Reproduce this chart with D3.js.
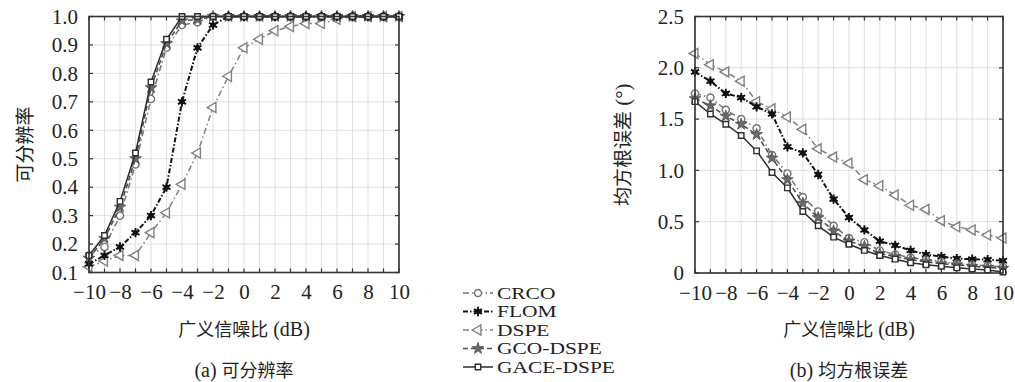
<!DOCTYPE html>
<html>
<head>
<meta charset="utf-8">
<script src="https://cdn.jsdelivr.net/npm/d3@7"></script>
<style>
body{margin:0;background:#fff;}
svg{display:block;}
</style>
</head>
<body>
<svg id="chart" width="1015" height="382"></svg>
<script>

var snr = d3.range(-10, 11, 1);

// (a) resolution probability
var probCRCO = [0.16,0.19,0.30,0.48,0.71,0.89,0.97,0.98,1,1,1,1,1,1,1,1,1,1,1,1,1];
var probFLOM = [0.13,0.16,0.19,0.24,0.30,0.40,0.70,0.89,0.97,1,1,1,1,1,1,1,1,1,1,1,1];
var probDSPE = [0.12,0.14,0.16,0.16,0.24,0.31,0.41,0.52,0.68,0.79,0.89,0.92,0.95,0.965,0.975,0.975,0.99,1,1,1,1];
var probGCO  = [0.15,0.22,0.33,0.50,0.75,0.905,0.985,0.99,1,1,1,1,1,1,1,1,1,1,1,1,1];
var probGACE = [0.16,0.23,0.35,0.52,0.77,0.92,1,1,1,1,1,1,1,1,1,1,1,1,1,1,1];

// (b) RMSE
var rmseCRCO = [1.75,1.71,1.59,1.50,1.41,1.15,0.97,0.74,0.60,0.46,0.34,0.30,0.22,0.18,0.15,0.13,0.11,0.09,0.08,0.07,0.06];
var rmseFLOM = [1.96,1.87,1.75,1.71,1.62,1.55,1.23,1.17,0.96,0.72,0.54,0.42,0.31,0.27,0.22,0.18,0.16,0.14,0.135,0.13,0.12];
var rmseDSPE = [2.14,2.03,1.96,1.87,1.67,1.60,1.52,1.40,1.21,1.13,1.07,0.91,0.85,0.76,0.66,0.62,0.51,0.45,0.42,0.37,0.34];
var rmseGCO  = [1.70,1.63,1.53,1.45,1.35,1.12,0.91,0.68,0.54,0.41,0.31,0.26,0.19,0.16,0.13,0.11,0.09,0.08,0.065,0.055,0.045];
var rmseGACE = [1.67,1.55,1.45,1.34,1.19,0.98,0.83,0.60,0.46,0.35,0.28,0.22,0.17,0.135,0.10,0.08,0.065,0.05,0.04,0.03,0.01];

var xTicks = [-10,-8,-6,-4,-2,0,2,4,6,8,10];
var probTicks = [0.1,0.2,0.3,0.4,0.5,0.6,0.7,0.8,0.9,1.0];
var rmseTicks = [0,0.5,1.0,1.5,2.0,2.5];

var seriesNames = ['CRCO','FLOM','DSPE','GCO-DSPE','GACE-DSPE'];

var styles = {
	'CRCO':      {color:'#737373', dash:'6,3,1.5,3', width:1.5, marker:'circle'},
	'FLOM':      {color:'#111111', dash:'5,2,1.5,2', width:2.0, marker:'burst'},
	'DSPE':      {color:'#808080', dash:'6,3,1.5,3', width:1.5, marker:'triangle'},
	'GCO-DSPE':  {color:'#4d4d4d', dash:'5,3',       width:1.6, marker:'star'},
	'GACE-DSPE': {color:'#2e2e2e', dash:null,        width:1.5, marker:'square'}
};

var serif = '"Liberation Serif", "Times New Roman", serif';
var cjk = '"Noto Sans CJK SC", sans-serif';

var svg = d3.select('#chart');

function drawMarker(g, type, style, x, y){
	var at = 'translate('+x+','+y+')';
	if(type == 'circle'){
		g.append('path').attr('d', d3.symbol(d3.symbolCircle, 40)()).attr('transform',at)
			.attr('fill','#fff').attr('stroke',style.color).attr('stroke-width',1.4);
	}else if(type == 'burst'){
		g.append('path').attr('d', d3.symbol(d3.symbolCircle, 24)()).attr('transform',at)
			.attr('fill',style.color);
		g.append('path').attr('d', d3.symbol(d3.symbolAsterisk, 60)()).attr('transform',at)
			.attr('fill','none').attr('stroke',style.color).attr('stroke-width',1.9);
	}else if(type == 'triangle'){
		g.append('path').attr('d', d3.symbol(d3.symbolTriangle, 44)()).attr('transform',at+' rotate(-90)')
			.attr('fill','#fff').attr('stroke',style.color).attr('stroke-width',1.4);
	}else if(type == 'star'){
		g.append('path').attr('d', d3.symbol(d3.symbolStar, 42)()).attr('transform',at)
			.attr('fill','#6a6a6a').attr('stroke',style.color).attr('stroke-width',0.8);
	}else if(type == 'square'){
		g.append('path').attr('d', d3.symbol(d3.symbolSquare, 30)()).attr('transform',at)
			.attr('fill','#fff').attr('stroke',style.color).attr('stroke-width',1.4);
	}
}

function drawPanel(opt){
	var x = d3.scaleLinear().domain([-10,10]).range([opt.left, opt.right]);
	var y = d3.scaleLinear().domain(opt.yDomain).range([opt.bottom, opt.top]);
	var g = svg.append('g');

	// grid
	g.append('g').selectAll('line').data(snr).enter().append('line')
		.attr('x1',function(d){return x(d);}).attr('x2',function(d){return x(d);})
		.attr('y1',opt.top).attr('y2',opt.bottom)
		.attr('stroke','#d8d8d8').attr('stroke-width',0.8);
	g.append('g').selectAll('line').data(opt.yTicks).enter().append('line')
		.attr('x1',opt.left).attr('x2',opt.right)
		.attr('y1',function(d){return y(d);}).attr('y2',function(d){return y(d);})
		.attr('stroke','#d8d8d8').attr('stroke-width',0.8);

	// axes labels
	var xb = d3.axisBottom(x).tickValues(xTicks).tickSize(0).tickPadding(12)
		.tickFormat(function(d){return d < 0 ? '\u2212' + Math.abs(d) : d;});
	var xAxis = g.append('g').attr('transform','translate(0,'+opt.bottom+')').call(xb);
	xAxis.select('.domain').remove();
	xAxis.attr('font-family',null);
	xAxis.selectAll('text').style('font-family',serif).style('font-size','21px').attr('fill','#222');

	var yl = d3.axisLeft(y).tickValues(opt.yTicks).tickSize(0).tickPadding(11).tickFormat(opt.yFormat);
	var yAxis = g.append('g').attr('transform','translate('+opt.left+',0)').call(yl);
	yAxis.select('.domain').remove();
	yAxis.attr('font-family',null);
	yAxis.selectAll('text').style('font-family',serif).style('font-size','21px').attr('fill','#222');

	// inward ticks on all four sides
	var ticks = g.append('g').attr('stroke','#333').attr('stroke-width',1.2);
	ticks.selectAll('.tb').data(snr).enter().append('line')
		.attr('x1',function(d){return x(d);}).attr('x2',function(d){return x(d);})
		.attr('y1',opt.bottom).attr('y2',opt.bottom-4);
	ticks.selectAll('.tt').data(snr).enter().append('line')
		.attr('x1',function(d){return x(d);}).attr('x2',function(d){return x(d);})
		.attr('y1',opt.top).attr('y2',opt.top+4);
	ticks.selectAll('.tl').data(opt.yTicks).enter().append('line')
		.attr('x1',opt.left).attr('x2',opt.left+4)
		.attr('y1',function(d){return y(d);}).attr('y2',function(d){return y(d);});
	ticks.selectAll('.tr').data(opt.yTicks).enter().append('line')
		.attr('x1',opt.right).attr('x2',opt.right-4)
		.attr('y1',function(d){return y(d);}).attr('y2',function(d){return y(d);});

	// series
	var line = d3.line().x(function(d){return x(d[0]);}).y(function(d){return y(d[1]);});
	opt.order.forEach(function(name){
		var st = styles[name];
		var pts = snr.map(function(s,i){return [s, opt.data[name][i]];});
		g.append('path').datum(pts).attr('d',line)
			.attr('fill','none').attr('stroke',st.color).attr('stroke-width',st.width)
			.attr('stroke-dasharray',st.dash);
		var mg = g.append('g');
		pts.forEach(function(p){ drawMarker(mg, st.marker, st, x(p[0]), y(p[1])); });
	});

	// frame
	g.append('rect').attr('x',opt.left).attr('y',opt.top)
		.attr('width',opt.right-opt.left).attr('height',opt.bottom-opt.top)
		.attr('fill','none').attr('stroke','#333').attr('stroke-width',1.6);

	// titles
	var cx = (opt.left + opt.right)/2;
	var xt = g.append('text').attr('x',cx).attr('y',336).attr('text-anchor','middle').attr('fill','#222');
	xt.append('tspan').style('font-family',cjk).style('font-size','18px').text('广义信噪比');
	xt.append('tspan').style('font-family',serif).style('font-size','20px').text(' (dB)');

	var cap = g.append('text').attr('x',cx).attr('y',377).attr('text-anchor','middle').attr('fill','#222');
	cap.append('tspan').style('font-family',serif).style('font-size','20px').text(opt.captionTag + ' ');
	cap.append('tspan').style('font-family',cjk).style('font-size','18px').text(opt.caption);

	var yt = g.append('text')
		.attr('transform','translate('+opt.yLabelX+','+((opt.top+opt.bottom)/2)+') rotate(-90)')
		.attr('text-anchor','middle').attr('dy','0.35em').attr('fill','#222');
	yt.append('tspan').style('font-family',cjk).style('font-size','19px').text(opt.yLabel);
	if(opt.yLabelUnit) yt.append('tspan').style('font-family',serif).style('font-size','21px').text(opt.yLabelUnit);
}

drawPanel({
	left:89, right:399, top:16.5, bottom:272.5,
	yDomain:[0.1,1.0], yTicks:probTicks, yFormat:d3.format('.1f'),
	data:{'CRCO':probCRCO,'FLOM':probFLOM,'DSPE':probDSPE,'GCO-DSPE':probGCO,'GACE-DSPE':probGACE},
	order:['DSPE','CRCO','GCO-DSPE','FLOM','GACE-DSPE'],
	yLabel:'可分辨率', yLabelUnit:null, yLabelX:26,
	captionTag:'(a)', caption:'可分辨率'
});

drawPanel({
	left:695, right:1003, top:16.5, bottom:273,
	yDomain:[0,2.5], yTicks:rmseTicks, yFormat:function(d){return d == 0 ? '0' : d3.format('.1f')(d);},
	data:{'CRCO':rmseCRCO,'FLOM':rmseFLOM,'DSPE':rmseDSPE,'GCO-DSPE':rmseGCO,'GACE-DSPE':rmseGACE},
	order:['DSPE','FLOM','CRCO','GCO-DSPE','GACE-DSPE'],
	yLabel:'均方根误差', yLabelUnit:' (°)', yLabelX:624,
	captionTag:'(b)', caption:'均方根误差'
});

// legend
var legend = svg.append('g');
seriesNames.forEach(function(name,i){
	var st = styles[name];
	var ly = 293 + i*18.5;
	legend.append('line').attr('x1',463).attr('x2',493).attr('y1',ly).attr('y2',ly)
		.attr('stroke',st.color).attr('stroke-width',st.width).attr('stroke-dasharray',st.dash);
	drawMarker(legend, st.marker, st, 478, ly);
	legend.append('text').attr('transform','translate(497,'+ly+') scale(1.3,1)').attr('dy','0.35em')
		.style('font-family',serif).style('font-size','16.5px').attr('fill','#222').text(name);
});

</script>
</body>
</html>
